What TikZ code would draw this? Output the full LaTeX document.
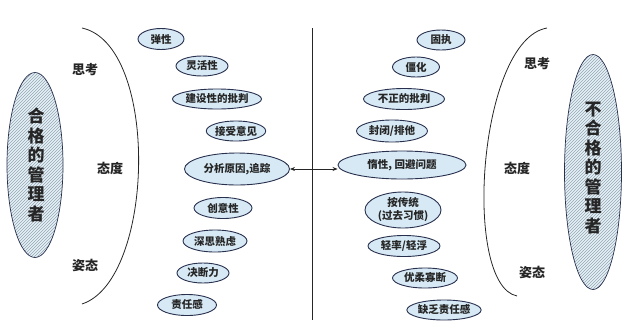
\documentclass[tikz,border=0pt]{standalone}
\usepackage{fontspec}
\setmainfont{Noto Sans CJK SC}
\usetikzlibrary{patterns,arrows.meta,shapes.geometric}
\definecolor{nodefill}{RGB}{214,233,244}
\definecolor{nodeline}{RGB}{40,48,78}
\definecolor{bigfill}{RGB}{230,242,249}
\definecolor{hatch}{RGB}{150,165,175}
\tikzset{
  trait/.style={ellipse, draw=nodeline, line width=0.9pt, fill=nodefill, inner sep=0pt,
    font=\fontsize{10.5}{12}\selectfont\bfseries, text=black!85},
  biglabel/.style={font=\fontsize{13}{15}\selectfont\bfseries, text=black!85},
  bigell/.style={ellipse, draw=nodeline, line width=0.7pt, preaction={fill=bigfill},
    pattern=north east lines, pattern color=hatch, inner sep=0pt},
  bigtext/.style={font=\fontsize{17}{19.5}\selectfont\bfseries, align=center, text=black!85},
  arcline/.style={draw=black!85, line width=0.8pt},
}
\begin{document}
\begin{tikzpicture}[x=1pt,y=-1pt]
\useasboundingbox (0,0) rectangle (629,330);
% big ellipses
\node[bigell, minimum width=56pt, minimum height=185pt] (lbig) at (35,165) {};
\node[bigtext] (ltext) at (36,165) {合\\格\\的\\管\\理\\者};
\node[bigell, minimum width=57pt, minimum height=235pt] (rbig) at (593,172) {};
\node[bigtext] (rtext) at (593,168) {不\\合\\格\\的\\管\\理\\者};
% arcs
\coordinate (la1) at (82,28);
\coordinate (la2) at (82,304);
\draw[arcline] (la1) .. controls (160,45) and (155,280) .. (la2);
\coordinate (ra1) at (547,28);
\coordinate (ra2) at (517,296);
\draw[arcline] (ra1) .. controls (478,40) and (462,285) .. (ra2);
% vertical line
\coordinate (vt) at (312,28);
\coordinate (vb) at (312,320);
\draw[line width=0.8pt, black!85] (vt) -- (vb);
% labels
\node[biglabel] (l1) at (85,70) {思考};
\node[biglabel] (l2) at (110,168) {态度};
\node[biglabel] (l3) at (85,265) {姿态};
\node[biglabel] (r1) at (537,64) {思考};
\node[biglabel] (r2) at (517,168) {态度};
\node[biglabel] (r3) at (532,272) {姿态};
% left traits
\node[trait, minimum width=46pt, minimum height=21pt] (a1) at (161,39) {弹性};
\node[trait, minimum width=52pt, minimum height=20pt] (a2) at (202,66) {灵活性};
\node[trait, minimum width=81pt, minimum height=20pt] (a3) at (217,99) {建设性的批判};
\node[trait, minimum width=47pt, minimum height=20pt] (a4) at (236,131) {接受意见};
\node[trait, minimum width=105pt, minimum height=32pt] (a5) at (237,169) {分析原因,追踪};
\node[trait, minimum width=58pt, minimum height=21pt] (a6) at (223,208) {创意性};
\node[trait, minimum width=64pt, minimum height=22pt] (a7) at (215,241) {深思熟虑};
\node[trait, minimum width=52pt, minimum height=20pt] (a8) at (203,273) {决断力};
\node[trait, minimum width=59pt, minimum height=21pt] (a9) at (187,305) {责任感};
% right traits
\node[trait, minimum width=48pt, minimum height=20pt] (b1) at (441,40) {固执};
\node[trait, minimum width=47pt, minimum height=20pt] (b2) at (416,67) {僵化};
\node[trait, minimum width=81pt, minimum height=21pt] (b3) at (404,99) {不正的批判};
\node[trait, minimum width=71pt, minimum height=22pt] (b4) at (392,131) {封闭/排他};
\node[trait, minimum width=128pt, minimum height=28pt] (b5) at (402,165) {惰性, 回避问题};
\node[trait, minimum width=76pt, minimum height=36pt, align=center, font=\fontsize{10.5}{13}\selectfont\bfseries] (b6) at (403,210) {按传统\\(过去习惯)};
\node[trait, minimum width=72pt, minimum height=21pt] (b7) at (404,246) {轻率/轻浮};
\node[trait, minimum width=65pt, minimum height=20pt] (b8) at (425,278) {优柔寡断};
\node[trait, minimum width=65pt, minimum height=20pt] (b9) at (444,310) {缺乏责任感};
% arrow
\draw[{Stealth[length=5pt,width=4pt]}-{Stealth[length=5pt,width=4pt]}, line width=0.7pt, black!85] (a5.east) -- (b5.west |- a5.east);
\end{tikzpicture}
\end{document}
